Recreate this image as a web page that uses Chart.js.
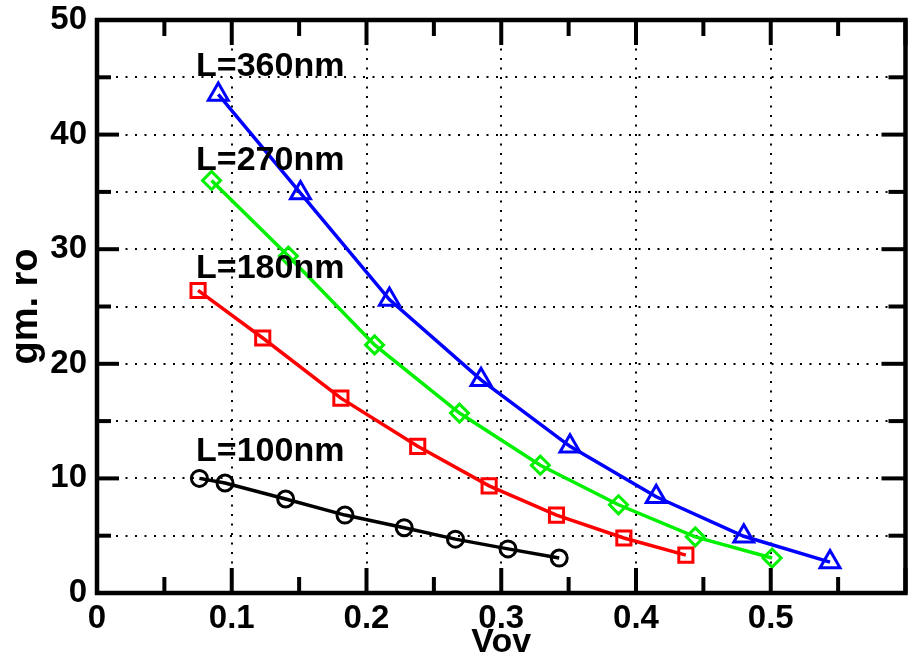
<!DOCTYPE html>
<html>
<head>
<meta charset="utf-8">
<script src="https://cdn.jsdelivr.net/npm/chart.js@4.4.0/dist/chart.umd.min.js"></script>
<style>
  html, body { margin: 0; padding: 0; background: #fff; overflow: hidden; width: 909px; height: 664px; }
  #wrap { width: 909px; height: 664px; overflow: hidden; }
  #gmroChart { display: block; }
</style>
</head>
<body>
<!-- la figura original esta recortada a la derecha: el lienzo es algo mas ancho que la ventana -->
<div id="wrap"><canvas id="gmroChart" width="920" height="664"></canvas></div>
<script>
// valores
const vov100 = [0.076, 0.095, 0.140, 0.184, 0.228, 0.266, 0.305, 0.343];
const gmro100 = [10.0, 9.6, 8.2, 6.8, 5.7, 4.7, 3.85, 3.05];

const vov180 = [0.075, 0.123, 0.181, 0.238, 0.291, 0.341, 0.391, 0.437];
const gmro180 = [26.4, 22.25, 17.0, 12.8, 9.35, 6.8, 4.8, 3.3];

const vov270 = [0.085, 0.142, 0.206, 0.269, 0.329, 0.387, 0.444, 0.501];
const gmro270 = [36.0, 29.4, 21.65, 15.7, 11.15, 7.7, 4.9, 3.05];

const vov360 = [0.090, 0.151, 0.217, 0.285, 0.351, 0.415, 0.480, 0.544];
const gmro360 = [43.5, 34.9, 25.6, 18.6, 12.8, 8.4, 4.95, 2.7];

const etiquetasX = ["0", "0.1", "0.2", "0.3", "0.4", "0.5"];
const etiquetasY = ["0", "10", "20", "30", "40", "50"];
const nombresL = ["L=100nm", "L=180nm", "L=270nm", "L=360nm"];

// donde va cada texto L=..., en coordenadas de los ejes
const anclasL = [
  { x: 0.0735, y: 11.5 },
  { x: 0.0735, y: 27.5 },
  { x: 0.0735, y: 36.9 },
  { x: 0.0735, y: 45.1 },
];

const vovMax = 0.6;

const fuente = "'Liberation Sans', Arial, Helvetica, sans-serif";

function puntos(xs, ys) {
  return xs.map((x, i) => ({ x: x, y: ys[i] }));
}

function centesimas(v) {
  return Math.round(v * 100);
}

// marco, marcas hacia adentro y textos L=...
const marcoPlugin = {
  id: "marco",
  afterDatasetsDraw(chart) {
    const { ctx, chartArea: a, scales } = chart;
    ctx.save();
    ctx.strokeStyle = "#000";
    ctx.lineWidth = 4;
    ctx.setLineDash([]);

    const linea = (x1, y1, x2, y2) => {
      ctx.beginPath();
      ctx.moveTo(x1, y1);
      ctx.lineTo(x2, y2);
      ctx.stroke();
    };

    scales.x.ticks.forEach((t) => {
      const px = scales.x.getPixelForValue(t.value);
      const largo = centesimas(t.value) % 10 === 0 ? 25 : 16;
      linea(px, a.bottom, px, a.bottom - largo);
      linea(px, a.top, px, a.top + largo);
    });

    scales.y.ticks.forEach((t) => {
      const py = scales.y.getPixelForValue(t.value);
      const mayor = Math.round(t.value) % 10 === 0;
      linea(a.left, py, a.left + (mayor ? 22 : 14), py);
      linea(a.right, py, a.right - (mayor ? 24 : 17), py);
    });

    ctx.lineWidth = 4.5;
    ctx.strokeRect(a.left, a.top, a.right - a.left, a.bottom - a.top);

    ctx.fillStyle = "#000";
    ctx.font = "bold 34px " + fuente;
    ctx.textAlign = "left";
    ctx.textBaseline = "alphabetic";
    nombresL.forEach((txt, i) => {
      ctx.fillText(
        txt,
        scales.x.getPixelForValue(anclasL[i].x),
        scales.y.getPixelForValue(anclasL[i].y)
      );
    });
    ctx.restore();
  },
};

function serie(label, xs, ys, color, estilo, radio) {
  return {
    label: label,
    data: puntos(xs, ys),
    borderColor: color,
    borderWidth: 3.5,
    backgroundColor: color,
    pointStyle: estilo,
    pointRadius: radio,
    pointBorderWidth: 3,
    pointBorderColor: color,
    pointBackgroundColor: "rgba(0,0,0,0)",
    tension: 0,
    fill: false,
  };
}

const ctx = document.getElementById("gmroChart").getContext("2d");

new Chart(ctx, {
  type: "line",
  data: {
    datasets: [
      serie(nombresL[0], vov100, gmro100, "#000000", "circle", 8),
      serie(nombresL[1], vov180, gmro180, "#ff0000", "rect", 10),
      serie(nombresL[2], vov270, gmro270, "#00f000", "rectRot", 9),
      serie(nombresL[3], vov360, gmro360, "#0000ff", "triangle", 11.5),
    ],
  },
  options: {
    responsive: false,
    animation: false,
    layout: { padding: { top: 20, right: 0, left: 0, bottom: 0 } },
    plugins: {
      legend: { display: false },
      tooltip: { enabled: false },
    },
    scales: {
      x: {
        type: "linear",
        min: 0,
        max: vovMax,
        afterFit: (s) => {
          s.height = 71;
          s.paddingRight = 0;
        },
        ticks: {
          stepSize: 0.05,
          autoSkip: false,
          maxRotation: 0,
          padding: 6,
          color: "#000",
          font: { family: fuente, size: 33, weight: "bold", lineHeight: 1.2 },
          callback: (v) => {
            const c = centesimas(v);
            if (c % 10 !== 0 || c >= 60) return "";
            return etiquetasX[c / 10];
          },
        },
        grid: {
          drawTicks: false,
          lineWidth: 2,
          color: (c) => {
            if (!c.tick) return "rgba(0,0,0,0)";
            const d = centesimas(c.tick.value);
            return d % 10 === 0 && d > 0 && d < 60 ? "#000" : "rgba(0,0,0,0)";
          },
        },
        border: { display: false, dash: [2, 7.5] },
        title: {
          display: true,
          text: "Vov",
          color: "#000",
          font: { family: fuente, size: 34, weight: "bold", lineHeight: 1.2 },
          padding: { top: 0, bottom: 1 },
        },
      },
      y: {
        type: "linear",
        min: 0,
        max: 50,
        afterFit: (s) => {
          s.width = 97;
          s.paddingTop = 0;
          s.paddingBottom = 0;
        },
        ticks: {
          stepSize: 5,
          autoSkip: false,
          padding: 10,
          color: "#000",
          font: { family: fuente, size: 33, weight: "bold", lineHeight: 1.2 },
          callback: (v) => {
            const n = Math.round(v);
            if (n % 10 !== 0) return "";
            return etiquetasY[n / 10];
          },
        },
        grid: {
          drawTicks: false,
          lineWidth: 2,
          color: (c) => {
            if (!c.tick) return "rgba(0,0,0,0)";
            const n = Math.round(c.tick.value);
            return n > 0 && n < 50 ? "#000" : "rgba(0,0,0,0)";
          },
        },
        border: { display: false, dash: [2, 7.5] },
        title: {
          display: true,
          text: "gm. ro",
          color: "#000",
          font: { family: fuente, size: 38, weight: "bold", lineHeight: 1.2 },
          padding: { top: 4, bottom: 0 },
        },
      },
    },
  },
  plugins: [marcoPlugin],
});
</script>
</body>
</html>
